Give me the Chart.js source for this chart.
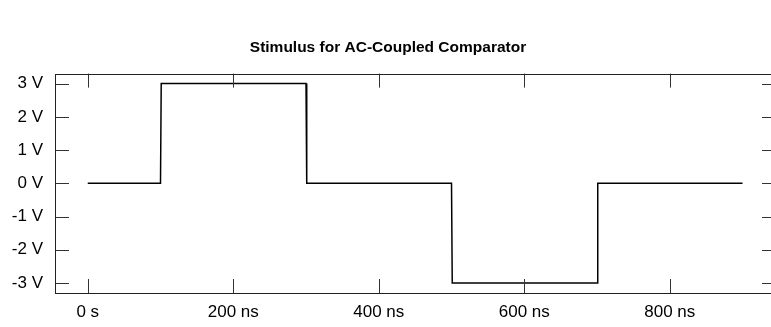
<!DOCTYPE html>
<html>
<head>
<meta charset="utf-8">
<script src="https://cdn.jsdelivr.net/npm/chart.js@4/dist/chart.umd.min.js"></script>
<style>
  html, body { margin: 0; padding: 0; background: #fff; overflow: hidden; }
  #wrap { width: 771px; height: 327px; overflow: hidden; }
  #box { width: 778px; height: 327px; }
</style>
</head>
<body>
<div id="wrap"><div id="box"><canvas id="stimulus"></canvas></div></div>
<script>
// time in ns, voltage in V
let timeNs = [0, 100, 101, 300, 301, 500, 501, 700, 701, 900];
let volts = [0, 0, 3, 3, 0, 0, -3, -3, 0, 0];
let xTicks = [0, 200, 400, 600, 800];
let yTicks = [-3, -2, -1, 0, 1, 2, 3];

let fontFamily = '"Liberation Sans", Arial, Helvetica, sans-serif';

// short inward ticks on all four sides, like the original plot
let innerTicks = {
    id: 'innerTicks',
    afterDraw(chart) {
        let ctx = chart.ctx;
        let area = chart.chartArea;
        let x = chart.scales.x;
        let y = chart.scales.y;
        ctx.save();
        ctx.strokeStyle = '#333';
        ctx.lineWidth = 1;
        ctx.beginPath();
        xTicks.forEach(v => {
            let px = Math.round(x.getPixelForValue(v)) + 0.5;
            ctx.moveTo(px, area.bottom);
            ctx.lineTo(px, area.bottom - 14);
            ctx.moveTo(px, area.top);
            ctx.lineTo(px, area.top + 14);
        });
        yTicks.forEach(v => {
            let py = Math.round(y.getPixelForValue(v)) + 0.5;
            ctx.moveTo(area.left, py);
            ctx.lineTo(area.left + 14, py);
            ctx.moveTo(area.right, py);
            ctx.lineTo(area.right - 14, py);
        });
        ctx.stroke();
        // frame
        ctx.strokeStyle = '#222';
        ctx.strokeRect(Math.round(area.left) + 0.5, Math.round(area.top) + 0.5,
            Math.round(area.right - area.left), Math.round(area.bottom - area.top));
        ctx.restore();
    }
};

let ctxStim = document.getElementById('stimulus').getContext('2d');

let stimulusChart = new Chart(ctxStim, {
    type: 'line',
    data: {
        labels: timeNs,
        datasets: [{
            data: timeNs.map((t, i) => ({ x: t, y: volts[i] })),
            borderColor: '#000',
            borderWidth: 1.5,
            pointRadius: 0,
            fill: false,
            tension: 0
        }]
    },
    options: {
        responsive: true,
        maintainAspectRatio: false,
        animation: false,
        layout: {
            padding: { left: 0, right: 2, top: 0, bottom: 0 }
        },
        plugins: {
            legend: { display: false },
            tooltip: { enabled: false },
            title: {
                display: true,
                text: 'Stimulus for AC-Coupled Comparator',
                color: '#000',
                font: { family: fontFamily, size: 15.5, weight: 'bold' },
                padding: { top: 38, bottom: 17 }
            }
        },
        scales: {
            x: {
                type: 'linear',
                min: -45,
                max: 946,
                border: { display: false },
                grid: { display: false },
                afterBuildTicks: scale => { scale.ticks = xTicks.map(v => ({ value: v })); },
                afterFit: scale => { scale.height = 34; },
                ticks: {
                    color: '#000',
                    padding: 1,
                    maxRotation: 0,
                    font: { family: fontFamily, size: 17 },
                    callback: v => v === 0 ? '0 s' : v + ' ns'
                }
            },
            y: {
                min: -3.3,
                max: 3.3,
                border: { display: false },
                grid: { display: false },
                afterBuildTicks: scale => { scale.ticks = yTicks.map(v => ({ value: v })); },
                afterFit: scale => { scale.width = 55; },
                ticks: {
                    color: '#000',
                    padding: 4,
                    font: { family: fontFamily, size: 17 },
                    callback: v => v + ' V'
                }
            }
        }
    },
    plugins: [innerTicks]
});
</script>
</body>
</html>
